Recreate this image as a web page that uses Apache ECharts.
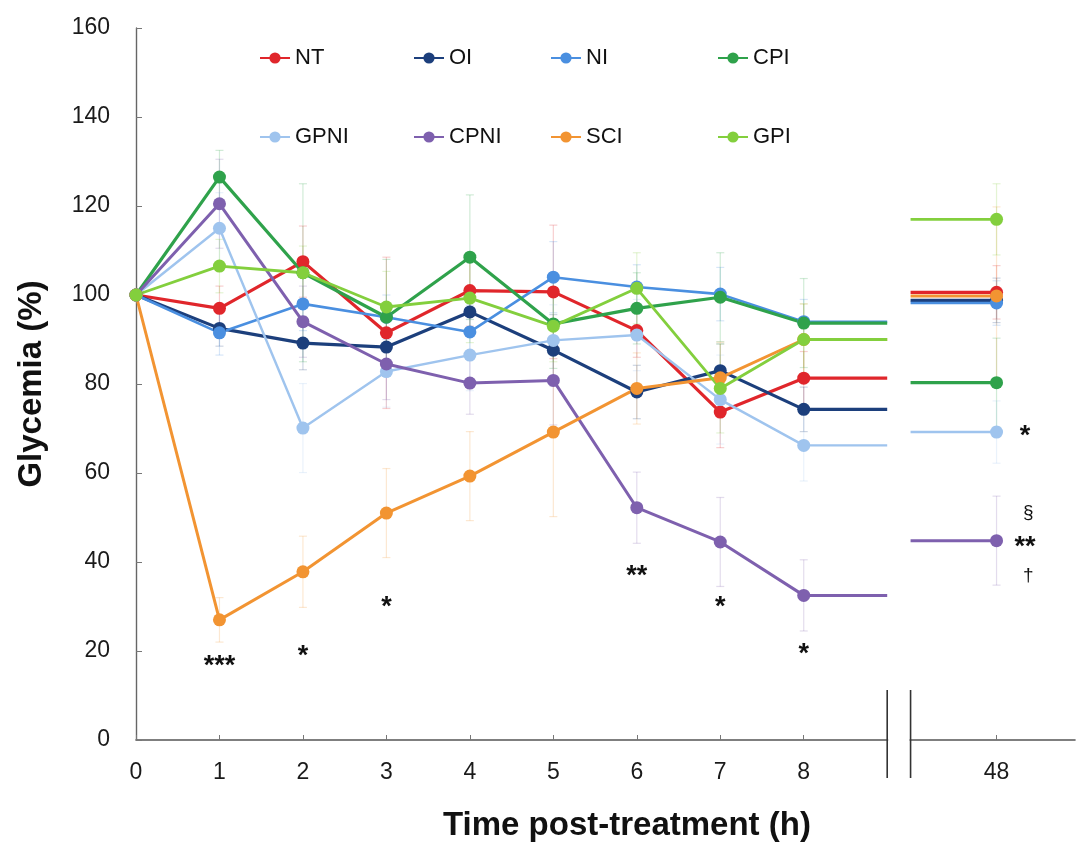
<!DOCTYPE html>
<html>
<head>
<meta charset="utf-8">
<script src="https://cdn.jsdelivr.net/npm/echarts@6/dist/echarts.min.js"></script>
<style>
html,body{margin:0;padding:0;background:#fff;}
#chart{width:1077px;height:843px;}
</style>
</head>
<body>
<div id="chart"></div>
<script>
// ---- data ----
const timeLabels = ['0','1','2','3','4','5','6','7','8','48'];
const timePos    = [0, 1, 2, 3, 4, 5, 6, 7, 8, 10.31];   // axis position of each time point (48 h after the break)
const breakPos   = [9.0, 9.28];                            // axis break (start, end)

const seriesNames = ['NT','OI','NI','CPI','GPNI','CPNI','SCI','GPI'];

const NT   = [100, 97,   107.5, 91.5, 101,   100.7, 92,    73.7,  81.3, 100.6];
const OI   = [100, 92.5, 89.2,  88.3, 96.2,  87.6,  78.2,  83,    74.3, 98.8];
const NI   = [100, 91.5, 98,    95,   91.7,  104,   101.8, 100.2, 94,   98.2];
const CPI  = [100, 126.5,105,   95,   108.5, 93.5,  97,    99.5,  93.7, 80.3];
const GPNI = [100, 115,  70.1,  82.8, 86.5,  89.8,  91,    76.5,  66.2, 69.2];
const CPNI = [100, 120.5,94,    84.5, 80.2,  80.8,  52.2,  44.5,  32.5, 44.8];
const SCI  = [100, 27,   37.8,  51,   59.3,  69.2,  79,    81.4,  90,   99.8];
const GPI  = [100, 106.5,105,   97.3, 99.3,  93,    101.5, 79,    90,   117];

// estimated error bars (± value)
const NT_err   = [0, 5, 8, 17, 8, 15, 6, 8, 6, 6];
const OI_err   = [0, 4, 6, 6, 5, 8, 6, 6, 5, 5];
const NI_err   = [0, 5, 6, 5, 6, 8, 5, 6, 5, 5];
const CPI_err  = [0, 6, 20, 13, 14, 10, 8, 10, 10, 10];
const GPNI_err = [0, 8, 10, 8, 8, 8, 8, 10, 8, 7];
const CPNI_err = [0, 10, 8, 8, 7, 10, 8, 10, 8, 10];
const SCI_err  = [0, 5, 8, 10, 10, 19, 8, 8, 8, 20];
const GPI_err  = [0, 6, 6, 8, 10, 8, 8, 10, 8, 8];

// significance marks: axis position, value, text
const markX    = [1,     2,    3,    6,    7,    8,    10.65, 10.65, 10.69, 10.69];
const markY    = [18.3,  20.6, 31.6, 38.6, 31.5, 20.9, 70.1,  45,    51,    37];
const markText = ['***', '*',  '*',  '**', '*',  '*',  '*',   '**',  '§',   '†'];

const yTicks = [0, 20, 40, 60, 80, 100, 120, 140, 160];

const colors = {
  NT:'#e0262b', OI:'#1c3f7c', NI:'#4a8fe0', CPI:'#2fa24b',
  GPNI:'#9fc4ee', CPNI:'#7e60ae', SCI:'#f29432', GPI:'#83cf3d'
};
const values = {NT, OI, NI, CPI, GPNI, CPNI, SCI, GPI};
const errs = {NT:NT_err, OI:OI_err, NI:NI_err, CPI:CPI_err, GPNI:GPNI_err, CPNI:CPNI_err, SCI:SCI_err, GPI:GPI_err};
const widths = {NT:3.2, OI:3.2, NI:2.6, CPI:3.2, GPNI:2.4, CPNI:3, SCI:3, GPI:2.8};

const font = "'Liberation Sans', Arial, Helvetica, sans-serif";

function lineData(v) {
  const d = [];
  for (let i = 0; i < 9; i++) d.push({value: [timePos[i], v[i]]});
  d.push({value: [breakPos[0], v[8]], symbol: 'none'});
  d.push({value: [(breakPos[0] + breakPos[1]) / 2, null]});
  d.push({value: [breakPos[1], v[9]], symbol: 'none'});
  d.push({value: [timePos[9], v[9]]});
  return d;
}

const series = [];
seriesNames.forEach(n => {
  const e = errs[n], v = values[n];
  series.push({
    name: n + '_err', type: 'custom', z: 1, silent: true, clip: false,
    data: v.map((y, i) => [timePos[i], y - e[i], y + e[i]]),
    renderItem: (params, api) => {
      const x = api.value(0);
      const lo = api.coord([x, api.value(1)]);
      const hi = api.coord([x, api.value(2)]);
      const st = {stroke: colors[n], lineWidth: 1.2, opacity: 0.22};
      return {type: 'group', children: [
        {type: 'line', shape: {x1: lo[0], y1: lo[1], x2: hi[0], y2: hi[1]}, style: st},
        {type: 'line', shape: {x1: hi[0]-4, y1: hi[1], x2: hi[0]+4, y2: hi[1]}, style: st},
        {type: 'line', shape: {x1: lo[0]-4, y1: lo[1], x2: lo[0]+4, y2: lo[1]}, style: st}
      ]};
    }
  });
});
seriesNames.forEach(n => {
  series.push({
    name: n, type: 'line', z: 3, clip: false,
    data: lineData(values[n]),
    symbol: 'circle', symbolSize: 13, connectNulls: false,
    lineStyle: {color: colors[n], width: widths[n]},
    itemStyle: {color: colors[n]},
    emphasis: {disabled: true}
  });
});
series.push({
  type: 'custom', z: 6, silent: true, clip: false,
  data: markX.map((x, i) => [x, markY[i], i]),
  renderItem: (params, api) => {
    const i = api.value(2);
    const t = markText[i];
    const p = api.coord([api.value(0), api.value(1)]);
    const star = t.indexOf('*') >= 0;
    return {
      type: 'text', x: p[0], y: p[1] + (star ? 8 : 0),
      style: {
        text: t, align: 'center', verticalAlign: 'middle',
        font: (star ? 'bold 27px ' : '19px ') + font, fill: '#111'
      }
    };
  }
});

function legendCol(names, left) {
  return {
    data: names, orient: 'vertical', left: left, top: 42,
    itemWidth: 30, itemHeight: 14, itemGap: 57, selectedMode: false,
    textStyle: {fontSize: 22, color: '#111', fontFamily: font, lineHeight: 21}
  };
}

const chart = echarts.init(document.getElementById('chart'), null, {renderer: 'canvas'});
chart.setOption({
  animation: false,
  backgroundColor: '#fff',
  grid: {left: 136, right: 2, top: 28, bottom: 103, containLabel: false},
  legend: [
    legendCol(['NT', 'GPNI'], 254),
    legendCol(['OI', 'CPNI'], 408),
    legendCol(['NI', 'SCI'], 545),
    legendCol(['CPI', 'GPI'], 712)
  ],
  title: {
    text: 'Time post-treatment (h)', left: 438, top: 804,
    textStyle: {fontSize: 33, fontWeight: 'bold', color: '#111', fontFamily: font}
  },
  xAxis: {
    type: 'value', min: 0, max: 11.25,
    axisLine: {lineStyle: {color: '#555', width: 1.6}},
    axisTick: {show: true, inside: true, length: 5, customValues: timePos, lineStyle: {color: '#777'}},
    axisLabel: {
      customValues: timePos, margin: 21,
      formatter: v => { const i = timePos.indexOf(v); return i >= 0 ? timeLabels[i] : ''; },
      fontSize: 23, color: '#1a1a1a', fontFamily: font
    },
    splitLine: {show: false}
  },
  yAxis: {
    type: 'value', min: 0, max: 160, interval: 20,
    name: 'Glycemia (%)', nameLocation: 'middle', nameGap: 88, nameRotate: 90,
    nameTextStyle: {fontSize: 33, fontWeight: 'bold', color: '#111', fontFamily: font},
    axisLine: {show: true, lineStyle: {color: '#666', width: 1.4}},
    axisTick: {show: true, inside: true, length: 6, lineStyle: {color: '#777'}},
    axisLabel: {
      margin: 26, fontSize: 23, color: '#1a1a1a', fontFamily: font,
      customValues: yTicks
    },
    splitLine: {show: false}
  },
  series: series
});

// axis break marks
const p0 = chart.convertToPixel({gridIndex: 0}, [breakPos[0], 0]);
const p1 = chart.convertToPixel({gridIndex: 0}, [breakPos[1], 0]);
chart.setOption({
  graphic: [
    {type: 'rect', shape: {x: p0[0] + 1, y: p0[1] - 3, width: p1[0] - p0[0] - 2, height: 6},
     style: {fill: '#fff'}, z: 10},
    {type: 'line', shape: {x1: p0[0], y1: p0[1] - 50, x2: p0[0], y2: p0[1] + 38},
     style: {stroke: '#333', lineWidth: 1.6}, z: 11},
    {type: 'line', shape: {x1: p1[0], y1: p1[1] - 50, x2: p1[0], y2: p1[1] + 38},
     style: {stroke: '#333', lineWidth: 1.6}, z: 11}
  ]
});
</script>
</body>
</html>
